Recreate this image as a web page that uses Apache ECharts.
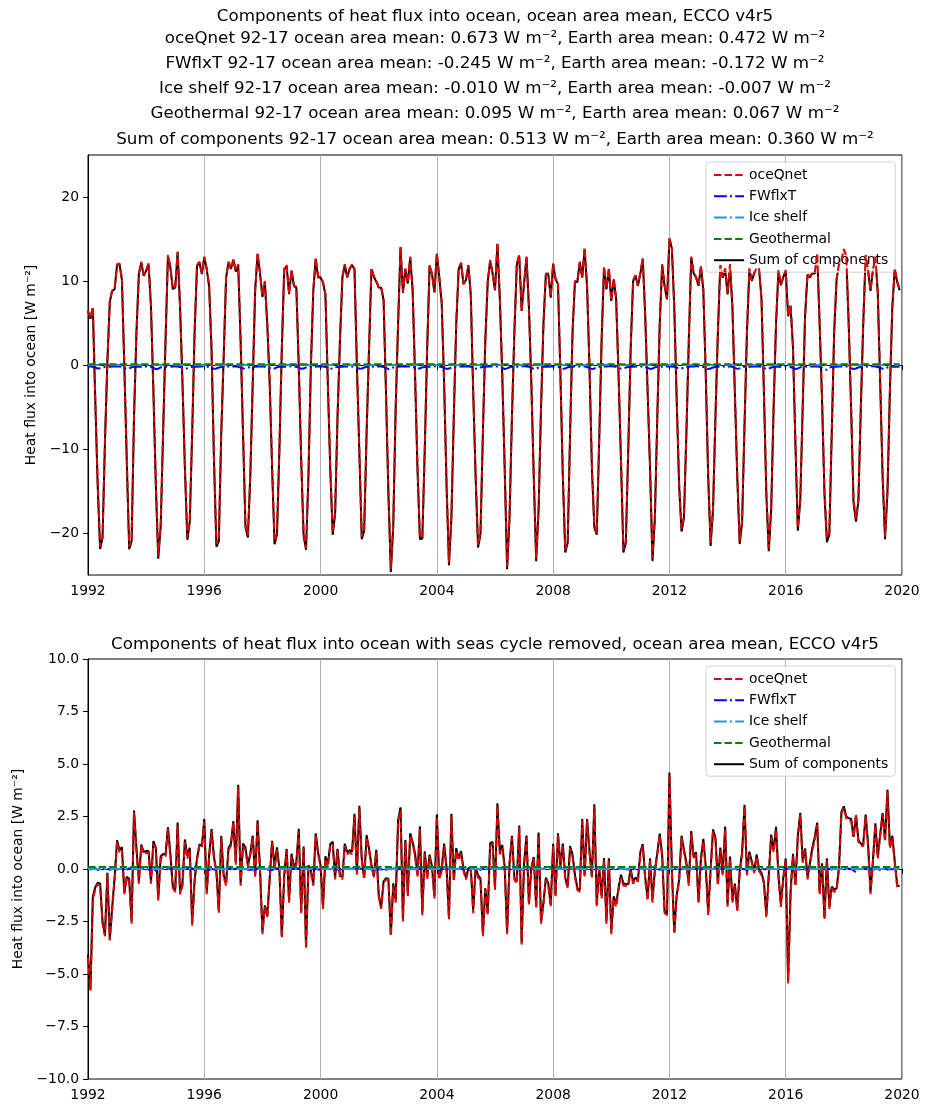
<!DOCTYPE html>
<html><head><meta charset="utf-8">
<script src="https://cdn.jsdelivr.net/npm/echarts@6/dist/echarts.min.js"></script>
<style>html,body{margin:0;padding:0;background:#fff}#c{width:929px;height:1113px}</style>
</head><body><div id="c"></div>
<script>
// ---------- data ----------
const START_YEAR = 1992;
const xTicks = [1992, 1996, 2000, 2004, 2008, 2012, 2016, 2020];
const yTicksTop = [-20, -10, 0, 10, 20];
const seriesNames = ['oceQnet', 'FWflxT', 'Ice shelf', 'Geothermal', 'Sum of components'];

// monthly oceQnet, ocean area mean [W m-2], Jan 1992 .. Dec 2019 (one row per year)
const oceQnet = [
  6.5, 5.6, 6.9, -4, -14, -21.6, -20.4, -9, 0.5, 7.7, 8.9, 9.1,
  12.0, 12.1, 10.3, 0, -11, -21.6, -20.8, -6, 4, 10.9, 12.3, 10.7,
  11.3, 12.1, 7, -3, -14, -22.7, -19, -8, 3, 13.1, 11.7, 9.1,
  9.3, 13.5, 7, -2, -12, -20.5, -18.5, -8, 4, 11.9, 12.3, 10.9,
  12.9, 11.5, 9.5, 2, -11, -21.3, -20.8, -8, 1, 10.5, 12.3, 11.5,
  12.6, 11.2, 12.0, 3, -8, -19, -20.3, -13, -2, 9, 13.3, 11,
  8.2, 10, 5, -2, -12, -21, -20, -10, 2, 11.5, 11.9, 8.5,
  11.3, 9.5, 9.3, 0, -11, -20, -21.8, -13, 0, 9, 12.7, 10.5,
  10.5, 9.9, 8.5, -2, -12, -19.9, -17.6, -6, 3, 10.5, 12, 10.5,
  11.5, 12, 11.5, 0, -10, -20.4, -19.5, -8, 2, 11.5, 10.6, 10,
  9.3, 9.3, 7.9, -3, -15, -24.3, -19, -5, 5, 14.1, 8.7, 11.5,
  9.8, 12.9, 9, -1, -12, -20.4, -20.5, -10, 2, 11.9, 10.9, 8.7,
  13.3, 10.5, 7.5, -2, -14, -23.5, -18, -6, 5, 11.5, 12.2, 9.7,
  10.2, 11.9, 8.5, -3, -13, -21.4, -20, -8, 3, 10, 12.5, 11,
  9, 14.5, 8, -1, -12, -24, -18, -6, 4, 12.1, 13.1, 6.5,
  9.8, 12.9, 7, -2, -13, -23, -17, -5, 5, 10.9, 10.9, 8.1,
  12.1, 10.3, 9.8, -1, -13, -22, -21, -8, 4, 10, 10, 12.3,
  10.5, 13.9, 9.5, 0, -12, -19, -20, -9, 3, 11.7, 9.1, 11.5,
  7.7, 10.3, 8, -1, -11, -22, -21, -10, 2, 10.1, 10.7, 9.5,
  11, 12.7, 6, -3, -12, -23, -18, -6, 5, 12, 9.5, 7.9,
  15.1, 14, 7, -4, -14, -19.5, -18, -8, 3, 12.9, 11, 10.5,
  9.5, 11.8, 9, -1, -13, -21.2, -17, -6, 4, 11.9, 10.5, 11.5,
  8.5, 12, 7, -3, -13, -21, -18.5, -7, 4, 11.5, 10.1, 11,
  11.5, 11.5, 8, -3, -15, -21.8, -17, -5, 5, 11.3, 9.6, 10.5,
  11.3, 5.9, 7.2, 2.3, -9, -19.4, -16, -5, 6, 10.9, 10.5, 11,
  11, 13.3, 5, -4, -15, -20.6, -20, -8, 4, 10.3, 12, 12.5,
  13.8, 13, 5, -5, -16, -18.3, -16, -5, 5, 13.1, 11.3, 8.9,
  11.3, 12.9, 8.7, -2, -13, -20.4, -15, -3, 7, 11.5, 10, 9
];

// monthly FWflxT [W m-2]
const fwflxT = [
  -0.15,-0.18,-0.22,-0.30,-0.42,-0.40,-0.30,-0.24,-0.20,-0.22,-0.18,-0.16,
  -0.17,-0.16,-0.24,-0.35,-0.48,-0.41,-0.27,-0.22,-0.21,-0.19,-0.20,-0.17,
  -0.16,-0.19,-0.21,-0.33,-0.50,-0.44,-0.29,-0.23,-0.19,-0.21,-0.18,-0.15,
  -0.18,-0.17,-0.23,-0.31,-0.44,-0.39,-0.28,-0.21,-0.22,-0.20,-0.19,-0.17,
  -0.16,-0.18,-0.25,-0.34,-0.47,-0.42,-0.30,-0.24,-0.20,-0.18,-0.17,-0.16,
  -0.19,-0.17,-0.22,-0.30,-0.43,-0.40,-0.31,-0.25,-0.21,-0.20,-0.18,-0.17,
  -0.17,-0.20,-0.24,-0.36,-0.49,-0.41,-0.28,-0.22,-0.20,-0.19,-0.21,-0.16,
  -0.15,-0.17,-0.21,-0.32,-0.45,-0.43,-0.29,-0.23,-0.19,-0.22,-0.19,-0.18,
  -0.18,-0.16,-0.23,-0.33,-0.46,-0.40,-0.27,-0.24,-0.21,-0.20,-0.18,-0.17,
  -0.16,-0.19,-0.22,-0.31,-0.44,-0.42,-0.30,-0.22,-0.20,-0.19,-0.20,-0.16,
  -0.17,-0.18,-0.24,-0.35,-0.50,-0.43,-0.29,-0.23,-0.21,-0.18,-0.19,-0.17,
  -0.18,-0.17,-0.22,-0.32,-0.45,-0.39,-0.28,-0.24,-0.19,-0.21,-0.18,-0.16,
  -0.16,-0.19,-0.23,-0.34,-0.47,-0.41,-0.31,-0.22,-0.20,-0.20,-0.17,-0.18,
  -0.17,-0.16,-0.21,-0.30,-0.44,-0.42,-0.29,-0.23,-0.22,-0.19,-0.19,-0.17,
  -0.19,-0.18,-0.24,-0.36,-0.48,-0.40,-0.27,-0.22,-0.20,-0.21,-0.18,-0.16,
  -0.16,-0.17,-0.22,-0.33,-0.46,-0.43,-0.30,-0.24,-0.19,-0.20,-0.20,-0.17,
  -0.17,-0.19,-0.23,-0.31,-0.45,-0.41,-0.28,-0.23,-0.21,-0.18,-0.19,-0.18,
  -0.18,-0.16,-0.25,-0.35,-0.49,-0.42,-0.29,-0.22,-0.20,-0.19,-0.17,-0.16,
  -0.16,-0.18,-0.22,-0.32,-0.44,-0.40,-0.31,-0.25,-0.21,-0.21,-0.18,-0.17,
  -0.17,-0.17,-0.23,-0.34,-0.47,-0.43,-0.28,-0.22,-0.19,-0.20,-0.20,-0.18,
  -0.19,-0.18,-0.21,-0.30,-0.45,-0.41,-0.30,-0.23,-0.20,-0.19,-0.18,-0.16,
  -0.16,-0.17,-0.24,-0.33,-0.48,-0.42,-0.29,-0.24,-0.22,-0.18,-0.19,-0.17,
  -0.18,-0.19,-0.22,-0.35,-0.46,-0.40,-0.27,-0.22,-0.20,-0.20,-0.17,-0.18,
  -0.17,-0.16,-0.23,-0.31,-0.50,-0.44,-0.30,-0.23,-0.21,-0.19,-0.20,-0.16,
  -0.16,-0.18,-0.24,-0.36,-0.47,-0.41,-0.28,-0.24,-0.19,-0.21,-0.18,-0.17,
  -0.18,-0.17,-0.22,-0.34,-0.52,-0.58,-0.31,-0.22,-0.20,-0.20,-0.19,-0.17,
  -0.17,-0.19,-0.25,-0.38,-0.49,-0.42,-0.29,-0.23,-0.21,-0.18,-0.18,-0.16,
  -0.16,-0.17,-0.23,-0.32,-0.46,-0.43,-0.30,-0.24,-0.20,-0.19,-0.20,-0.18
];

const iceShelfMean = -0.010;   // W m-2 (92-17 ocean area mean)
const geothermalMean = 0.095;  // W m-2 (92-17 ocean area mean)
const iceShelfAnom = 0.0;

// seasonal cycle removed
const oceQnetAnom = [
  -4.2, -5.8, -1.4, -1.0, -0.7, -0.8, -2.6, -3.2, -0.3, -3.4, -1.9, -0.5,
  1.3, 0.8, 0.9, -1.2, -0.4, -0.6, -2.6, 2.7, 0.9, -0.7, 1.1, 0.7,
  0.75, 0.8, -0.7, 1.2, 1.0, -1.5, 0.5, 0.6, 0.6, 1.9, 0.6, -0.9,
  -1.1, 2.1, -1.2, -0.8, 1.3, 0.5, 0.9, -2.7, -0.6, 0.4, 1.1, 1.0,
  2.25, -1.2, 0.6, 1.8, 0.5, -0.2, -2.1, 1.5, -0.4, -0.8, 0.9, 1.1,
  2.2, 0.2, 3.9, -0.8, 1.1, 0.9, 0.1, 0.7, 1.5, -0.4, 2.2, -0.1,
  -3.1, -1.8, -2.3, -0.5, 1.3, 0.0, 0.9, -0.1, -3.3, -0.4, 0.9, -1.6,
  0.6, 0.0, 0.2, 1.8, -2.1, 1.0, -3.8, 0.1, -0.2, -0.8, 1.6, 0.7,
  0.1, -1.9, 0.5, 0.1, 1.1, 1.2, -0.5, 0.9, -0.4, -0.5, 1.1, 0.7,
  0.8, 0.7, 2.5, -0.3, 2.9, 0.4, -0.5, 1.5, 0.9, 0.1, -0.4, 0.8,
  -1.3, -1.9, -0.7, -0.5, -0.5, -3.2, -0.8, -1.6, 2.25, 2.8, -2.5, 1.3,
  -1.3, 1.6, 1.2, 0.6, -0.4, 1.9, -2.2, 0.75, -0.5, 0.6, 0.0, -1.4,
  2.5, -0.5, -0.1, 1.1, 0.0, -2.4, 2.5, -0.6, 0.9, 0.4, 0.75, -0.1,
  -0.5, -0.1, 0.0, -2.1, 0.0, -0.4, -0.5, -3.2, -1.0, -2.2, 1.1, 1.2,
  -1.0, 3.0, 0.7, 1.0, 0.0, -3.1, 0.2, 1.5, -0.5, -0.7, 2.0, -3.6,
  0.2, 1.5, -1.7, 0.0, 0.5, -1.9, 1.6, -2.6, -1.7, -0.5, -0.8, -1.8,
  1.1, -1.3, 1.6, 0.0, 1.1, -0.5, -0.9, 1.0, 0.6, -0.4, -1.0, -1.1,
  2.3, -0.4, 2.3, 0.8, -0.4, 3.0, -1.8, 0.0, -1.4, 0.4, -2.6, 0.4,
  -3.1, -1.4, -1.8, -1.0, -0.4, -0.8, -0.8, -0.8, -0.1, -0.7, -0.5, -0.6,
  0.7, 1.1, -0.5, -1.5, 0.4, -1.6, -0.1, 0.7, 1.6, 0.6, -2.1, -2.2,
  4.5, -0.1, -3.1, -1.3, -0.6, 1.5, 0.8, 0.2, -0.8, 1.7, 0.5, 0.7,
  -1.6, 0.4, 1.3, 0.0, -2.2, -0.1, 1.8, 1.4, -0.8, 0.9, -0.3, 1.9,
  -1.8, 0.5, -1.6, -0.8, -2.0, -0.2, 0.7, 2.97, -0.3, 0.7, 0.3, -0.2,
  0.6, -0.1, -0.3, -0.7, -2.3, -0.4, 1.5, 0.8, 1.9, -0.4, -1.8, -0.5,
  0.4, -5.45, -1.2, 0.6, -0.8, 1.5, 2.6, 0.3, 0.9, -0.5, 0.2, 0.9,
  1.4, 2.1, -1.2, 0.2, -2.4, 0.4, -1.9, -0.9, -1.1, -1.0, 0.0, 2.65,
  2.9, 2.4, 2.3, 2.3, 1.5, 2.6, 1.3, 1.1, 1.1, 2.5, 1.1, -1.2,
  0.3, 2.1, 0.5, 1.6, 2.6, 1.3, 3.7, 1.0, 1.5, 0.3, -0.84, -0.9
];

const fwflxTAnom = [
  0.03,-0.02,0.01,0.04,-0.05,0.02,-0.01,0.00,0.03,-0.04,0.01,0.02,
  -0.03,0.01,0.05,-0.02,-0.06,0.03,0.02,-0.01,0.00,0.02,-0.03,0.01,
  0.02,-0.04,0.00,0.03,-0.08,0.00,0.01,0.02,-0.02,-0.01,0.03,0.00,
  -0.01,0.02,-0.03,0.05,0.01,0.04,0.02,0.03,-0.04,0.01,-0.02,-0.01,
  0.04,-0.01,-0.05,0.01,-0.03,0.01,0.00,-0.02,0.02,0.04,0.01,0.02,
  -0.02,0.03,0.02,0.04,0.02,0.03,-0.03,-0.04,-0.01,-0.02,0.03,-0.01,
  0.01,-0.03,-0.02,-0.04,-0.05,0.02,0.03,0.01,0.01,0.02,-0.04,0.02,
  0.03,0.02,0.03,0.02,0.00,-0.03,0.01,-0.02,0.03,-0.03,0.00,-0.02,
  -0.02,0.01,0.01,0.02,-0.01,0.01,-0.02,-0.03,-0.01,0.03,0.01,0.00,
  0.00,0.03,0.03,0.03,0.02,0.00,-0.01,0.02,-0.03,0.01,-0.02,0.02,
  -0.01,-0.02,0.01,-0.03,-0.06,-0.02,0.02,0.01,-0.02,0.04,0.01,-0.01,
  0.02,0.01,-0.01,0.04,0.03,0.04,0.03,-0.01,0.04,-0.01,0.02,0.01,
  0.01,-0.01,0.03,0.01,-0.01,-0.01,0.04,-0.02,0.00,0.01,0.01,0.00,
  -0.01,0.02,0.00,0.03,-0.03,0.01,-0.04,0.01,-0.02,0.00,0.04,-0.01,
  0.01,0.03,0.02,0.05,0.02,0.00,0.00,-0.01,-0.03,0.02,-0.02,0.00,
  -0.03,0.00,-0.01,-0.03,-0.02,0.03,0.04,0.01,0.01,-0.01,0.02,0.01,
  0.00,-0.02,0.00,0.04,0.01,-0.02,-0.01,0.00,-0.01,0.03,-0.01,-0.01,
  -0.01,0.03,-0.02,-0.02,-0.05,-0.01,0.01,0.01,0.01,0.02,0.01,0.02,
  0.01,0.00,0.03,0.01,0.03,0.02,-0.01,-0.02,0.02,-0.01,0.00,-0.02,
  0.02,-0.01,0.00,0.00,0.02,0.03,-0.03,-0.03,-0.01,-0.02,-0.01,-0.01,
  0.00,0.02,0.01,-0.03,-0.01,-0.01,0.03,0.02,0.04,0.01,-0.03,0.00,
  -0.03,0.01,0.04,0.03,0.01,0.02,-0.01,0.00,0.01,0.02,0.01,0.03,
  0.02,0.00,-0.01,0.01,-0.02,0.01,0.01,-0.01,-0.03,0.03,-0.02,0.01,
  0.00,-0.02,0.02,-0.01,0.00,0.03,0.04,0.01,0.01,0.01,0.02,-0.02,
  0.01,0.03,0.00,0.03,-0.04,-0.02,-0.02,0.00,-0.02,0.02,-0.01,0.03,
  0.03,0.01,-0.01,-0.02,-0.01,0.01,0.01,-0.03,0.03,-0.02,0.01,-0.01,
  -0.01,0.00,0.02,0.00,-0.07,-0.15,-0.01,0.01,0.00,0.00,-0.01,0.01,
  0.01,-0.02,-0.02,-0.05,-0.03,0.01,-0.02,-0.01,-0.01,0.01,-0.02,-0.02
];

const SUP = '\u207B\u00B2';
const titleTopLines = [
  'Components of heat flux into ocean, ocean area mean, ECCO v4r5',
  'oceQnet 92-17 ocean area mean: 0.673 W m' + SUP + ', Earth area mean: 0.472 W m' + SUP,
  'FWflxT 92-17 ocean area mean: -0.245 W m' + SUP + ', Earth area mean: -0.172 W m' + SUP,
  'Ice shelf 92-17 ocean area mean: -0.010 W m' + SUP + ', Earth area mean: -0.007 W m' + SUP,
  'Geothermal 92-17 ocean area mean: 0.095 W m' + SUP + ', Earth area mean: 0.067 W m' + SUP,
  'Sum of components 92-17 ocean area mean: 0.513 W m' + SUP + ', Earth area mean: 0.360 W m' + SUP
];
const titleBottom = 'Components of heat flux into ocean with seas cycle removed, ocean area mean, ECCO v4r5';
const yAxisName = 'Heat flux into ocean [W m' + SUP + ']';

// ---------- build ----------
const xOf = i => START_YEAR + i / 12;
const pairs = arr => arr.map((v, i) => [xOf(i), v]);
const constSeries = c => oceQnet.map((_, i) => [xOf(i), c]);
const sumTop = oceQnet.map((v, i) => [xOf(i), v + fwflxT[i] + iceShelfMean + geothermalMean]);
const sumBot = oceQnetAnom.map((v, i) => [xOf(i), v + fwflxTAnom[i] + iceShelfAnom + geothermalMean]);

const FONT = 'DejaVu Sans';
const FS = 13.9;     // tick / label / legend size
const FT = 16.7;     // title size
const minus = s => String(s).replace('-', '\u2212');
const COLORS = { oce: '#e00000', fw: '#0000ff', ice: '#1f98d4', geo: '#008000', sum: '#000000' };

function line(name, data, idx, color, width, type, z) {
  return {
    name, type: 'line', data, xAxisIndex: idx, yAxisIndex: idx,
    symbol: 'none', showSymbol: false, z,
    lineStyle: { color, width, type, cap: 'butt' }, itemStyle: { color },
    emphasis: { disabled: true }, animation: false
  };
}
function seriesFor(idx, oce, fw, ice, geo, sum) {
  return [
    line('oceQnet', oce, idx, COLORS.oce, 2, [7.4, 3.2], 4),
    line('FWflxT', fw, idx, COLORS.fw, 2, [12.8, 3.2, 2, 3.2], 5),
    line('Ice shelf', ice, idx, COLORS.ice, 2, [12.8, 3.2, 2, 3.2], 5),
    line('Geothermal', geo, idx, COLORS.geo, 2, [7.4, 3.2], 5),
    line('Sum of components', sum, idx, COLORS.sum, 2, 'solid', 3)
  ];
}

function xAxis(idx) {
  return {
    type: 'value', gridIndex: idx, min: xTicks[0], max: xTicks[xTicks.length - 1], interval: 4,
    axisLine: { show: true, lineStyle: { color: '#000', width: 1 } },
    axisTick: { show: true, inside: false, length: 5, lineStyle: { color: '#000' } },
    axisLabel: { color: '#000', fontSize: FS, fontFamily: FONT, margin: 9, formatter: v => String(v) },
    splitLine: { show: true, lineStyle: { color: '#b0b0b0', width: 1 } }
  };
}
function yAxis(idx, min, max, gap, opts) {
  return Object.assign({
    type: 'value', gridIndex: idx, min, max,
    name: yAxisName, nameLocation: 'middle', nameGap: gap,
    nameTextStyle: { color: '#000', fontSize: FS, fontFamily: FONT },
    axisLine: { show: true, lineStyle: { color: '#000', width: 1 } },
    splitLine: { show: false }
  }, opts);
}

function legend(top) {
  return {
    data: seriesNames, orient: 'vertical', left: 706, top,
    itemWidth: 30, itemHeight: 14, itemGap: 7.3,
    padding: [6, 7, 5, 7],
    backgroundColor: 'rgba(255,255,255,0.8)', borderColor: '#d0d0d0', borderWidth: 1, borderRadius: 3,
    itemStyle: { opacity: 0, borderWidth: 0 },
    textStyle: { color: '#000', fontSize: FS, fontFamily: FONT },
    selectedMode: false
  };
}

const tStyle = t => ({ text: t, fill: '#000', font: FT + 'px "' + FONT + '"', textAlign: 'center', textVerticalAlign: 'middle', align: 'center', verticalAlign: 'middle' });
const graphics = titleTopLines.map((t, i) => ({ type: 'text', x: 495, y: [17, 39, 64, 89, 114, 140][i], style: tStyle(t) }));
graphics.push({ type: 'text', x: 495, y: 645, style: tStyle(titleBottom) });

const chart = echarts.init(document.getElementById('c'), null, { renderer: 'canvas' });
chart.setOption({
  animation: false,
  backgroundColor: '#fff',
  textStyle: { fontFamily: FONT },
  grid: [
    { left: 88, top: 155, width: 814, height: 420, show: true, borderColor: '#000', borderWidth: 1, backgroundColor: 'transparent' },
    { left: 88, top: 659, width: 814, height: 420, show: true, borderColor: '#000', borderWidth: 1, backgroundColor: 'transparent' }
  ],
  xAxis: [xAxis(0), xAxis(1)],
  yAxis: [
    yAxis(0, -25, 25, 48, {
      axisTick: { show: true, length: 5, lineStyle: { color: '#000' }, customValues: yTicksTop },
      axisLabel: { color: '#000', fontSize: FS, fontFamily: FONT, margin: 9, customValues: yTicksTop, formatter: v => minus(v) }
    }),
    yAxis(1, -10, 10, 50, {
      interval: 2.5,
      axisTick: { show: true, length: 5, lineStyle: { color: '#000' } },
      axisLabel: { color: '#000', fontSize: FS, fontFamily: FONT, margin: 9, formatter: v => minus(Number(v).toFixed(1)) }
    })
  ],
  legend: [legend(162), legend(666)],
  graphic: graphics,
  series: [
    ...seriesFor(0, pairs(oceQnet), pairs(fwflxT), constSeries(iceShelfMean), constSeries(geothermalMean), sumTop),
    ...seriesFor(1, pairs(oceQnetAnom), pairs(fwflxTAnom), constSeries(iceShelfAnom), constSeries(geothermalMean), sumBot)
  ]
});
</script></body></html>
